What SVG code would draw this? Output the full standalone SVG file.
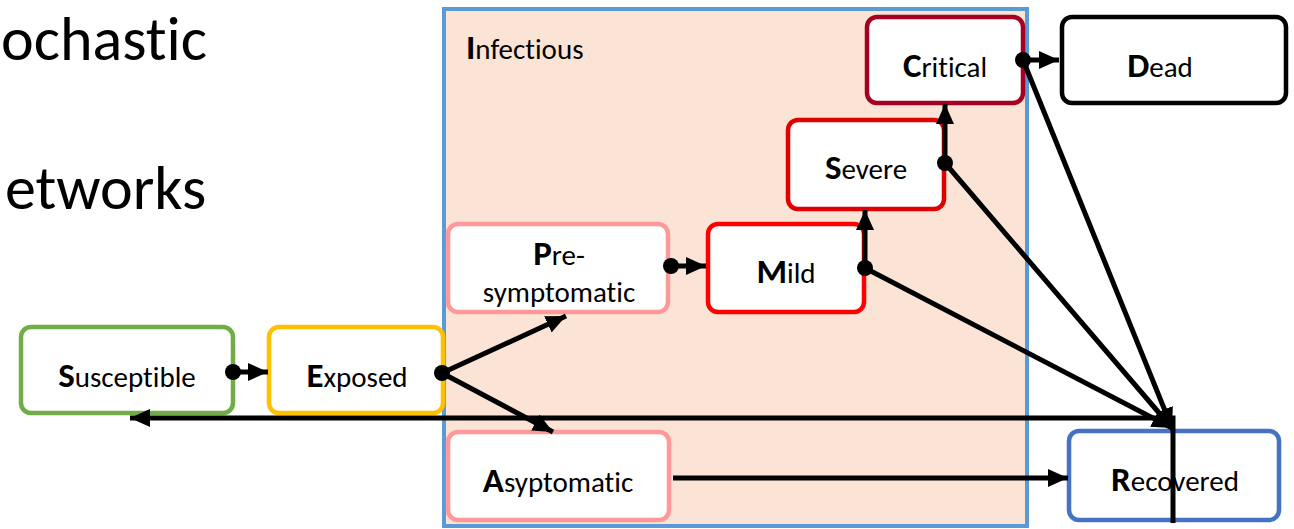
<svg xmlns="http://www.w3.org/2000/svg" width="1294" height="529" viewBox="0 0 1294 529">
<style>
  text { font-family: Carlito, Lato, "Liberation Sans", sans-serif; font-size: 29px; fill: #000; font-variant-ligatures: none; font-feature-settings: "liga" 0, "clig" 0; }
  .b { font-weight: bold; font-size: 35px; }
  .title { font-size: 62px; }
  .node { fill: #fff; stroke-width: 4.5; }
  .c { text-anchor: middle; }
  .conn { stroke: #000; stroke-width: 5; fill: none; }
  .dot { fill: #000; }
</style>
<defs>
  <marker id="arr" markerUnits="userSpaceOnUse" markerWidth="22" markerHeight="20" refX="20" refY="9" orient="auto">
    <path d="M0,0 L20,9 L0,18 z" fill="#000"/>
  </marker>
</defs>
<rect width="1294" height="529" fill="#fff"/>

<g id="title">
  <text class="title" x="1" y="60">ochastic</text>
  <text class="title" x="5" y="209">etworks</text>
</g>

<g id="infectious">
  <rect x="444" y="9" width="583" height="517" fill="#FBE4D5" stroke="#5B9BD5" stroke-width="4"/>
  <text x="466" y="59"><tspan class="b">I</tspan>nfectious</text>
</g>

<g id="critical">
  <rect class="node" x="867" y="17" width="156" height="86" rx="10" stroke="#A50021"/>
  <text class="c" x="945" y="77"><tspan class="b">C</tspan>ritical</text>
</g>
<g id="dead">
  <rect class="node" x="1062" y="17" width="224" height="86" rx="10" stroke="#000"/>
  <text class="c" x="1160" y="77"><tspan class="b">D</tspan>ead</text>
</g>
<g id="severe">
  <rect class="node" x="788" y="120" width="156" height="89" rx="10" stroke="#E00000"/>
  <text class="c" x="866" y="179"><tspan class="b">S</tspan>evere</text>
</g>
<g id="presymptomatic">
  <rect class="node" x="448" y="224" width="220" height="88" rx="10" stroke="#FF9999"/>
  <text class="c" x="559" y="265"><tspan class="b">P</tspan>re-</text>
  <text class="c" x="559" y="302">symptomatic</text>
</g>
<g id="mild">
  <rect class="node" x="708" y="224" width="156" height="88" rx="10" stroke="#FF0000"/>
  <text class="c" x="786" y="283"><tspan class="b">M</tspan>ild</text>
</g>
<g id="susceptible">
  <rect class="node" x="21" y="327" width="212" height="86" rx="10" stroke="#70AD47"/>
  <text class="c" x="127" y="387"><tspan class="b">S</tspan>usceptible</text>
</g>
<g id="exposed">
  <rect class="node" x="269" y="327" width="174" height="86" rx="10" stroke="#FFC000"/>
  <text class="c" x="357" y="387"><tspan class="b">E</tspan>xposed</text>
</g>
<g id="asymptomatic">
  <rect class="node" x="448" y="432" width="221" height="88" rx="10" stroke="#FF9999"/>
  <text class="c" x="558" y="492"><tspan class="b">A</tspan>syptomatic</text>
</g>
<g id="recovered">
  <rect class="node" x="1069" y="431" width="210" height="89" rx="10" stroke="#4472C4"/>
  <text class="c" x="1175" y="491"><tspan class="b">R</tspan>ecovered</text>
</g>

<g id="connectors">
  <line class="conn" x1="233" y1="372" x2="268" y2="372" marker-end="url(#arr)"/>
  <line class="conn" x1="442" y1="373" x2="566" y2="316" marker-end="url(#arr)"/>
  <line class="conn" x1="442" y1="373" x2="553" y2="432" marker-end="url(#arr)"/>
  <line class="conn" x1="671" y1="266" x2="706" y2="266" marker-end="url(#arr)"/>
  <line class="conn" x1="865" y1="268" x2="865" y2="210" marker-end="url(#arr)"/>
  <line class="conn" x1="945" y1="163" x2="945" y2="104" marker-end="url(#arr)"/>
  <line class="conn" x1="1023" y1="60" x2="1059" y2="60" marker-end="url(#arr)"/>
  <line class="conn" x1="865" y1="268" x2="1172" y2="428" marker-end="url(#arr)"/>
  <line class="conn" x1="945" y1="163" x2="1172" y2="428" marker-end="url(#arr)"/>
  <line class="conn" x1="1023" y1="60" x2="1172" y2="428" marker-end="url(#arr)"/>
  <polyline class="conn" points="1173,523 1173,418 130,418" marker-end="url(#arr)"/>
  <line class="conn" x1="673" y1="478" x2="1068" y2="478" marker-end="url(#arr)"/>
  <circle class="dot" cx="233" cy="372" r="8"/>
  <circle class="dot" cx="442" cy="373" r="8"/>
  <circle class="dot" cx="671" cy="266" r="8"/>
  <circle class="dot" cx="865" cy="268" r="8"/>
  <circle class="dot" cx="945" cy="163" r="8"/>
  <circle class="dot" cx="1023" cy="60" r="8"/>
</g>
</svg>
